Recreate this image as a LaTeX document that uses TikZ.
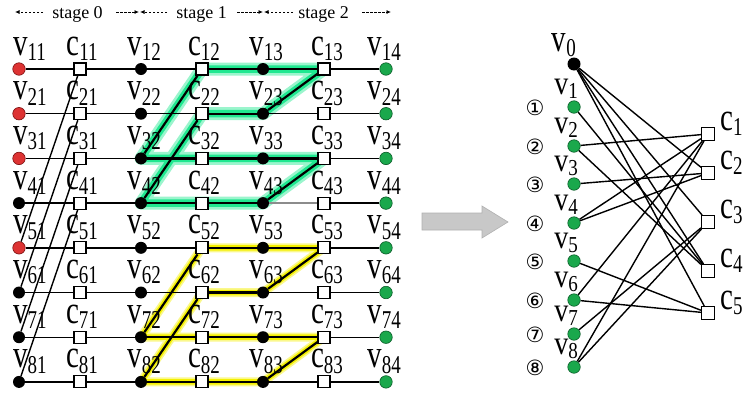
\documentclass[tikz,border=0pt]{standalone}
\usepackage{fontspec}
\setmainfont{Liberation Serif}
\newfontfamily\circfont{DejaVu Sans}
\usetikzlibrary{arrows.meta}
\pgfdeclarelayer{glowlayer}
\pgfdeclarelayer{edgelayer}
\pgfsetlayers{glowlayer,edgelayer,main}
\definecolor{redfill}{HTML}{DD3333}
\definecolor{redline}{HTML}{7A1010}
\definecolor{grnfill}{HTML}{1AA84C}
\definecolor{grnline}{HTML}{0A5A28}
\definecolor{glowgreen}{HTML}{20E890}
\definecolor{glowyellow}{HTML}{F4F000}
\definecolor{arrowfill}{HTML}{C8C8C8}
\definecolor{arrowline}{HTML}{B0B0B0}
\newcommand{\mylab}[2]{\scalebox{1}[1.35]{{\fontsize{29}{29}\selectfont #1}\raisebox{-4pt}{\fontsize{19}{19}\selectfont #2}}}
\newcommand{\mylabr}[2]{\scalebox{1}[1.2]{{\fontsize{28}{28}\selectfont #1}\raisebox{-4pt}{\fontsize{19}{19}\selectfont #2}}}
\tikzset{
  vred/.style={circle, inner sep=0pt, minimum size=12.5pt, fill=redfill, draw=redline, line width=0.6pt},
  vgreen/.style={circle, inner sep=0pt, minimum size=12.5pt, fill=grnfill, draw=grnline, line width=0.6pt},
  vblack/.style={circle, inner sep=0pt, minimum size=12pt, fill=black},
  csq/.style={rectangle, inner sep=0pt, minimum size=12pt, fill=white, draw=black, line width=1.1pt},
  lab/.style={inner sep=0pt},
  edge/.style={line width=1.4pt},
  hedge/.style={line width=2.2pt},
  grayedge/.style={line width=1.4pt, draw=black!45},
  gglow/.style={line join=round, line cap=round, draw=glowgreen!45, line width=13pt,
     postaction={draw=glowgreen, line width=7.5pt}},
  yglow/.style={line join=round, line cap=round, draw=glowyellow!45, line width=9pt,
     postaction={draw=glowyellow, line width=5.5pt}},
  stagearrow/.style={line width=0.8pt, dash pattern=on 2.5pt off 1.5pt, -{Latex[length=4.5pt,width=4pt]}},
  stagetext/.style={inner sep=0pt, anchor=base, font=\fontsize{18}{18}\selectfont},
  circnum/.style={inner sep=0pt, font=\circfont\fontsize{21}{21}\selectfont}
}
\begin{document}
\begin{tikzpicture}[x=1pt,y=-1pt]
\useasboundingbox (0,0) rectangle (749,397);

% ---------- header ----------
\node[stagetext] (s0) at (77.5,18) {stage 0};
\node[stagetext] (s1) at (201.5,18) {stage 1};
\node[stagetext] (s2) at (323.5,18) {stage 2};
\coordinate (a1s) at (43,12); \coordinate (a1e) at (15,12);
\coordinate (a2s) at (116,12); \coordinate (a2e) at (139,12);
\coordinate (a3s) at (167,12); \coordinate (a3e) at (140,12);
\coordinate (a4s) at (237,12); \coordinate (a4e) at (263,12);
\coordinate (a5s) at (293,12); \coordinate (a5e) at (264,12);
\coordinate (a6s) at (362,12); \coordinate (a6e) at (391,12);
\draw[stagearrow] (a1s) -- (a1e);
\draw[stagearrow] (a2s) -- (a2e);
\draw[stagearrow] (a3s) -- (a3e);
\draw[stagearrow] (a4s) -- (a4e);
\draw[stagearrow] (a5s) -- (a5e);
\draw[stagearrow] (a6s) -- (a6e);

% ---------- left graph nodes ----------
\foreach \i/\st in {1/vred,2/vred,3/vred,4/vblack,5/vred,6/vblack,7/vblack,8/vblack}{
  \pgfmathsetmacro\yy{69+44.7*(\i-1)}
  \node[\st] (v\i1) at (19,\yy) {};
  \node[csq] (c\i1) at (80,\yy) {};
  \node[vblack] (v\i2) at (141,\yy) {};
  \node[csq] (c\i2) at (202,\yy) {};
  \node[vblack] (v\i3) at (263,\yy) {};
  \node[csq] (c\i3) at (324,\yy) {};
  \node[vgreen] (v\i4) at (386,\yy) {};
  \node[lab, anchor=base west] (lv\i1) at (13,\yy-14) {\mylab{v}{\i1}};
  \node[lab, anchor=base] (lc\i1) at (82,\yy-14) {\mylab{c}{\i1}};
  \node[lab, anchor=base] (lv\i2) at (144,\yy-14) {\mylab{v}{\i2}};
  \node[lab, anchor=base] (lc\i2) at (204,\yy-14) {\mylab{c}{\i2}};
  \node[lab, anchor=base] (lv\i3) at (266,\yy-14) {\mylab{v}{\i3}};
  \node[lab, anchor=base] (lc\i3) at (327,\yy-14) {\mylab{c}{\i3}};
  \node[lab, anchor=base east] (lv\i4) at (401,\yy-14) {\mylab{v}{\i4}};
}

% ---------- glow ----------
\begin{pgfonlayer}{glowlayer}
\draw[gglow] (v32.center)--(c12.center)--(v13.center)--(c13.center)--(v23.center)--(c22.center)
  --(v42.center)--(c42.center)--(v43.center)--(c33.center)--(v33.center)--(c32.center)--cycle;
\draw[yglow] (v72.center)--(c52.center)--(v53.center)--(c53.center)--(v63.center)--(c62.center)
  --(v82.center)--(c82.center)--(v83.center)--(c73.center)--(v73.center)--(c72.center)--cycle;
\end{pgfonlayer}

% ---------- left graph edges ----------
\begin{pgfonlayer}{edgelayer}
\foreach \i in {1,...,8}{
  \draw[edge] (v\i1)--(c\i1)--(v\i2)--(c\i2)--(v\i3);
  \draw[edge] (c\i3)--(v\i4);
}
\foreach \i in {1,2,3,5,6,7,8}{
  \draw[edge] (v\i3)--(c\i3);
}
\draw[grayedge] (v43)--(c43);
% stage 0 diagonals
\draw[edge] (c11)--(v51);
\draw[edge] (c21)--(v61);
\draw[edge] (c31)--(v71);
\draw[edge] (c41)--(v81);
% highlighted (green)
\draw[hedge] (c12)--(v32);
\draw[hedge] (c22)--(v42);
\draw[hedge] (c13)--(v23);
\draw[hedge] (c33)--(v43);
\draw[hedge] (c12)--(v13)--(c13);
\draw[hedge] (c22)--(v23);
\draw[hedge] (v32)--(c32)--(v33)--(c33);
\draw[hedge] (v42)--(c42)--(v43);
% highlighted (yellow)
\draw[hedge] (c52)--(v72);
\draw[hedge] (c62)--(v82);
\draw[hedge] (c53)--(v63);
\draw[hedge] (c73)--(v83);
\draw[hedge] (c52)--(v53)--(c53);
\draw[hedge] (c62)--(v63);
\draw[hedge] (v72)--(c72)--(v73)--(c73);
\draw[hedge] (v82)--(c82)--(v83);
\end{pgfonlayer}

% ---------- big arrow ----------
\draw[draw=arrowline, fill=arrowfill, line width=0.6pt]
  (422,213)--(482,213)--(482,206)--(508,222)--(482,238)--(482,230)--(422,230)--cycle;

% ---------- right graph ----------
\node[vblack, minimum size=13pt] (r0) at (574,64) {};
\node[lab, anchor=base east] (lr0) at (576,51) {\mylab{v}{0}};
\foreach \k/\yy/\sym in {1/107/①,2/146/②,3/184/③,4/223/④,5/261/⑤,6/300/⑥,7/334/⑦,8/367/⑧}{
  \node[vgreen] (r\k) at (574,\yy) {};
  \node[lab, anchor=base east] (lr\k) at (578,\yy-13) {\mylabr{v}{\k}};
  \node[circnum] (n\k) at (535,\yy+1) {\sym};
}
\foreach \k/\yy in {1/134,2/173,3/222,4/271,5/313}{
  \node[csq, minimum size=13pt] (k\k) at (708,\yy) {};
  \node[lab, anchor=base west] (lk\k) at (720,\yy-4) {\mylab{c}{\k}};
}
\begin{pgfonlayer}{edgelayer}
\foreach \a/\b in {r0/k2,r0/k3,r0/k4,r0/k5,r1/k4,r2/k1,r2/k4,r3/k2,r4/k1,r4/k2,r5/k5,r6/k5,r6/k1,r7/k3,r8/k1,r8/k3}{
  \draw[edge] (\a)--(\b);
}
\end{pgfonlayer}
\end{tikzpicture}
\end{document}
